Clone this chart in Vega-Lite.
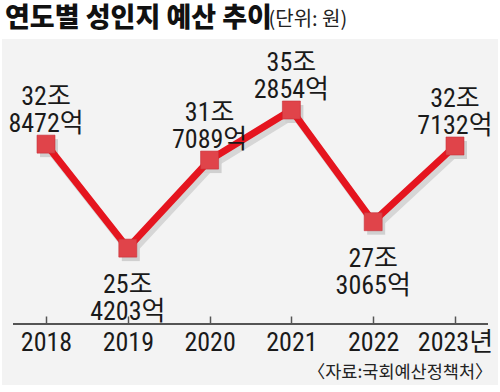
{
  "$schema": "https://vega.github.io/schema/vega-lite/v6.json",
  "width": 496,
  "height": 346,
  "autosize": "none",
  "padding": {"left": 2, "top": 39, "right": 2, "bottom": 7},
  "background": "#ffffff",
  "view": {"fill": "#f3f3f3", "stroke": null},
  "title": {
    "text": "연도별 성인지 예산 추이",
    "anchor": "start",
    "frame": "group",
    "font": "Noto Sans CJK KR",
    "fontSize": 27,
    "fontWeight": 900,
    "color": "#111111",
    "offset": -24,
    "dx": 3
  },
  "data": {
    "values": [
      {"year": 2018, "value": 32.8472, "label": "32조\n8472억"},
      {"year": 2019, "value": 25.4203, "label": "25조\n4203억"},
      {"year": 2020, "value": 31.7089, "label": "31조\n7089억"},
      {"year": 2021, "value": 35.2854, "label": "35조\n2854억"},
      {"year": 2022, "value": 27.3065, "label": "27조\n3065억"},
      {"year": 2023, "value": 32.7132, "label": "32조\n7132억"}
    ]
  },
  "encoding": {
    "x": {
      "field": "year",
      "type": "quantitative",
      "scale": {"domain": [2017.462, 2023.526], "nice": false, "zero": false},
      "axis": {
        "orient": "bottom",
        "offset": -61,
        "values": [2018, 2019, 2020, 2021, 2022, 2023],
        "labelExpr": "datum.value == 2023 ? '2023년' : '' + datum.value",
        "domain": false,
        "grid": false,
        "ticks": true,
        "tickSize": -8,
        "tickColor": "#555555",
        "tickWidth": 1.5,
        "labelFont": "'Roboto Condensed', 'Noto Sans CJK KR'",
        "labelFontSize": 26,
        "labelColor": "#1a1a1a",
        "labelPadding": 13,
        "labelFlush": false,
        "labelOverlap": false,
        "title": "〈자료:국회예산정책처〉",
        "titleFont": "Noto Sans CJK KR",
        "titleFontSize": 17.5,
        "titleFontWeight": "normal",
        "titleColor": "#222222",
        "titleAlign": "right",
        "titleBaseline": "middle",
        "titleX": 490,
        "titleY": 48
      }
    },
    "y": {
      "field": "value",
      "type": "quantitative",
      "scale": {"domain": [15.643, 40.357], "nice": false, "zero": false},
      "axis": {
        "title": "(단위: 원)",
        "domain": false,
        "ticks": false,
        "labels": false,
        "grid": false,
        "titleAngle": 0,
        "titleAlign": "left",
        "titleBaseline": "middle",
        "titleFont": "Noto Sans CJK KR",
        "titleFontSize": 20,
        "titleFontWeight": "normal",
        "titleColor": "#222222",
        "titleX": 266,
        "titleY": -20
      }
    }
  },
  "layer": [
    {
      "mark": {"type": "rule", "color": "#555555", "strokeWidth": 1.5},
      "encoding": {
        "x": {"datum": 2017.597},
        "x2": {"datum": 2023.403},
        "y": {"datum": 20}
      }
    },
    {
      "mark": {"type": "line", "color": "#d6d6d6", "strokeWidth": 7, "xOffset": 3, "yOffset": 5}
    },
    {
      "mark": {"type": "point", "shape": "square", "size": 324, "filled": true, "color": "#d0d0d0", "opacity": 1, "xOffset": 3, "yOffset": 4}
    },
    {
      "mark": {"type": "line", "color": "#e5151f", "strokeWidth": 7}
    },
    {
      "mark": {"type": "point", "shape": "square", "size": 324, "filled": true, "fill": "#e0444a", "stroke": "#c8323a", "strokeWidth": 0.6, "opacity": 1}
    },
    {
      "transform": [{"filter": "datum.year != 2019 && datum.year != 2022"}],
      "mark": {
        "type": "text",
        "lineBreak": "\n",
        "lineHeight": 27,
        "font": "'Roboto Condensed', 'Noto Sans CJK KR'",
        "fontSize": 26,
        "color": "#1a1a1a",
        "baseline": "middle",
        "align": "center",
        "dy": -47
      },
      "encoding": {"text": {"field": "label"}}
    },
    {
      "transform": [{"filter": "datum.year == 2019 || datum.year == 2022"}],
      "mark": {
        "type": "text",
        "lineBreak": "\n",
        "lineHeight": 27,
        "font": "'Roboto Condensed', 'Noto Sans CJK KR'",
        "fontSize": 26,
        "color": "#1a1a1a",
        "baseline": "middle",
        "align": "center",
        "dy": 37
      },
      "encoding": {"text": {"field": "label"}}
    }
  ]
}
